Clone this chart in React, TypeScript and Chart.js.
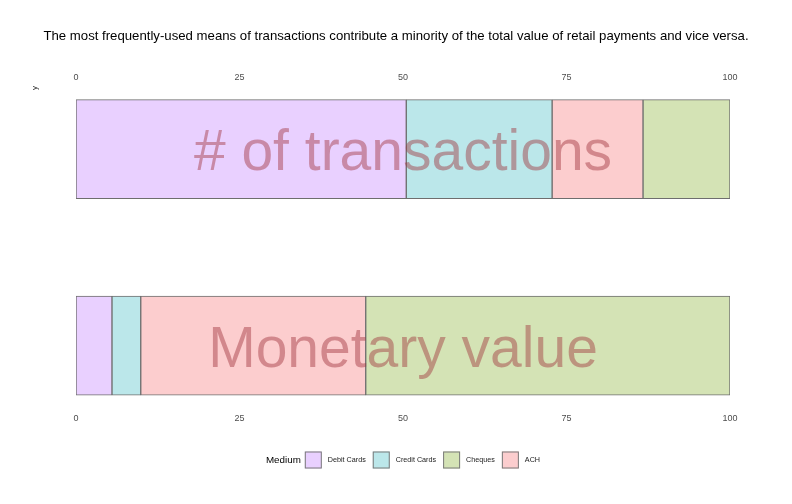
import React, { useEffect, useRef } from "react";
import { Chart, registerables } from "chart.js";

Chart.register(...registerables);

const rowLabels = ["# of transactions", "Monetary value"];
const debitCards = [50.5, 5.5];
const creditCards = [22.3, 4.4];
const ach = [13.9, 34.4];
const cheques = [13.3, 55.7];
const xTicks = [0, 25, 50, 75, 100];
const chartTitle =
  "The most frequently-used means of transactions contribute a minority of the total value of retail payments and vice versa.";

const legendItems = [
  { label: "Debit Cards", color: "#E9D0FF" },
  { label: "Credit Cards", color: "#BBE7EA" },
  { label: "Cheques", color: "#D4E3B5" },
  { label: "ACH", color: "#FCCDCE" },
];

const FONT = '"Liberation Sans", Arial, Helvetica, sans-serif';

const toPoints = (arr: number[]) => arr.map((v, i) => ({ x: v, y: i }));

const overlayPlugin = {
  id: "overlayText",
  afterDatasetsDraw(chart: any) {
    const { ctx, scales } = chart;
    const xs = scales.x;
    const ys = scales.y;
    ctx.save();
    ctx.font = `57px ${FONT}`;
    ctx.fillStyle = "rgba(160,50,60,0.45)";
    ctx.textAlign = "center";
    ctx.textBaseline = "alphabetic";
    rowLabels.forEach((lab, i) => {
      const x = xs.getPixelForValue(50);
      const y = ys.getPixelForValue(i) + 57 * 0.37;
      ctx.fillText(lab, x, y);
    });
    ctx.restore();
  },
  afterDraw(chart: any) {
    const { ctx, chartArea, width } = chart;
    ctx.save();
    // main title
    ctx.font = `13.2px ${FONT}`;
    ctx.fillStyle = "#000";
    ctx.textAlign = "center";
    ctx.textBaseline = "middle";
    ctx.fillText(chartTitle, width / 2, 36);
    // y axis title
    ctx.save();
    ctx.translate(35, 88);
    ctx.rotate(-Math.PI / 2);
    ctx.font = `8px ${FONT}`;
    ctx.fillStyle = "#1a1a1a";
    ctx.textAlign = "center";
    ctx.textBaseline = "middle";
    ctx.fillText("y", 0, 0);
    ctx.restore();
    // legend
    const titleFont = `9.8px ${FONT}`;
    const itemFont = `7.2px ${FONT}`;
    const box = 17;
    const gapTitle = 4;
    const gapBoxText = 6;
    const gapItem = 7;
    ctx.font = titleFont;
    const titleW = ctx.measureText("Medium").width;
    ctx.font = itemFont;
    const widths = legendItems.map((it) => ctx.measureText(it.label).width);
    let total = titleW + gapTitle;
    widths.forEach((w, i) => {
      total += box + gapBoxText + w + (i < widths.length - 1 ? gapItem : 0);
    });
    const cx = (chartArea.left + chartArea.right) / 2;
    let x = cx - total / 2;
    const cy = 460;
    ctx.textBaseline = "middle";
    ctx.textAlign = "left";
    ctx.fillStyle = "#000";
    ctx.font = titleFont;
    ctx.fillText("Medium", x, cy);
    x += titleW + gapTitle;
    ctx.font = itemFont;
    legendItems.forEach((it, i) => {
      ctx.fillStyle = it.color;
      ctx.fillRect(x, cy - box / 2, box, box);
      ctx.strokeStyle = "#7a7a7a";
      ctx.lineWidth = 1;
      ctx.strokeRect(x + 0.5, cy - box / 2 + 0.5, box - 1, box - 1);
      x += box + gapBoxText;
      ctx.fillStyle = "#1a1a1a";
      ctx.fillText(it.label, x, cy);
      x += widths[i] + gapItem;
    });
    ctx.restore();
  },
};

export default function App() {
  const ref = useRef<HTMLCanvasElement | null>(null);
  useEffect(() => {
    if (!ref.current) return;
    const mk = (label: string, data: number[], color: string) => ({
      label,
      data: toPoints(data),
      backgroundColor: color,
      borderColor: "#6e6e6e",
      borderWidth: 1,
      borderSkipped: false,
      barThickness: 99,
      xAxisID: "x",
      yAxisID: "y",
    });
    const tickOpts = { color: "#4d4d4d", font: { family: FONT, size: 9 }, padding: 8, maxRotation: 0 };
    const chart = new Chart(ref.current, {
      type: "bar",
      data: {
        datasets: [
          mk("Debit Cards", debitCards, "#E9D0FF"),
          mk("Credit Cards", creditCards, "#BBE7EA"),
          mk("ACH", ach, "#FCCDCE"),
          mk("Cheques", cheques, "#D4E3B5"),
        ] as any,
      },
      options: {
        indexAxis: "y",
        animation: false,
        responsive: false,
        layout: { padding: { left: 76, right: 62, top: 64.2, bottom: 71.6 } },
        plugins: {
          legend: { display: false },
          tooltip: { enabled: false },
          title: { display: false },
        },
        scales: {
          x: {
            type: "linear",
            position: "bottom",
            min: 0,
            max: 100,
            stacked: true,
            afterBuildTicks: (s: any) => {
              s.ticks = xTicks.map((v) => ({ value: v }));
            },
            grid: { display: false, drawTicks: false },
            border: { display: false },
            ticks: tickOpts,
          },
          x2: {
            type: "linear",
            position: "top",
            min: 0,
            max: 100,
            afterBuildTicks: (s: any) => {
              s.ticks = xTicks.map((v) => ({ value: v }));
            },
            grid: { display: false, drawTicks: false },
            border: { display: false },
            ticks: tickOpts,
          },
          y: {
            type: "linear",
            display: false,
            offset: false,
            reverse: true,
            min: -0.2954,
            max: 1.3056,
            stacked: true,
          },
        },
      } as any,
      plugins: [overlayPlugin],
    });
    return () => chart.destroy();
  }, []);
  return (
    <div style={{ position: "fixed", left: 0, top: 0, width: 792, height: 504, background: "#fff" }}>
      <canvas ref={ref} width={792} height={504} style={{ display: "block", width: 792, height: 504 }} />
    </div>
  );
}
